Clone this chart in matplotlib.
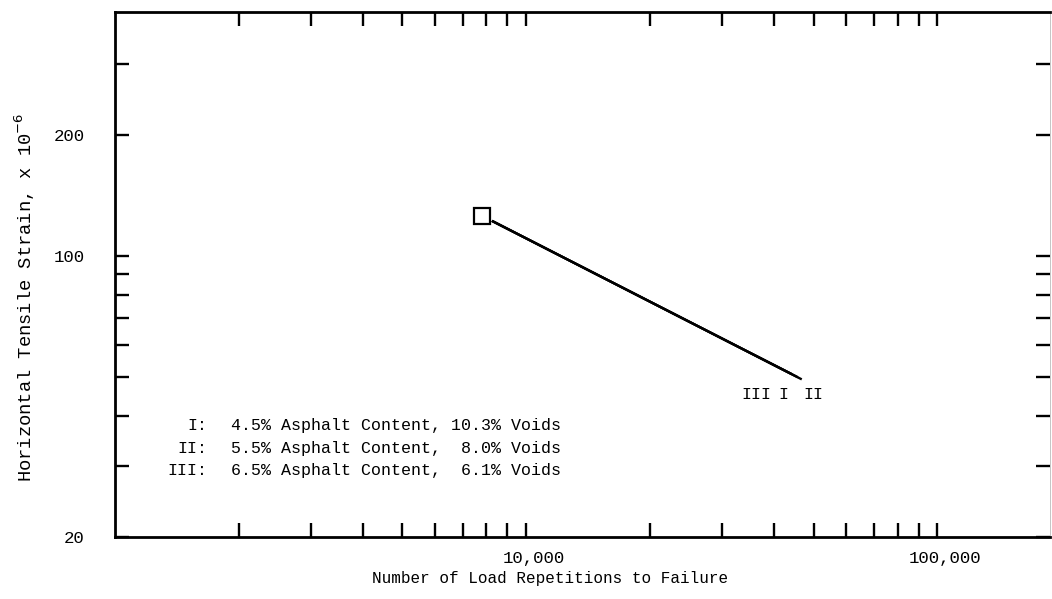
import numpy as np
import matplotlib.pyplot as plt
import matplotlib.transforms as mtransforms
from matplotlib.ticker import FixedLocator, FixedFormatter, NullLocator

# fatigue lines (start near the square marker, ends near the labels)
series = ['III', 'I', 'II']
n_start = [8300, 8300, 8300]
strain_start = [122, 122, 122]
n_end = [44000, 45500, 46500]
strain_end = [51.0, 50.1, 49.5]
label_n = [36200, 42300, 50000]
label_strain = [45.2, 45.2, 45.2]

# square data point
sq_n = [7800]
sq_strain = [126]

x_ticks = [2000, 3000, 4000, 5000, 6000, 7000, 8000, 9000, 10000,
           20000, 30000, 40000, 50000, 60000, 70000, 80000, 90000, 100000]
x_labels = ['', '', '', '', '', '', '', '', '10,000',
            '', '', '', '', '', '', '', '', '100,000']
y_ticks = [20, 30, 40, 50, 60, 70, 80, 90, 100, 200, 300]
y_labels = ['20', '', '', '', '', '', '', '', '100', '200', '']

legend_keys = ['I:', 'II:', 'III:']
legend_text = ['4.5% Asphalt Content, 10.3% Voids',
               '5.5% Asphalt Content,  8.0% Voids',
               '6.5% Asphalt Content,  6.1% Voids']

mono = 'Liberation Mono'

fig = plt.figure(figsize=(10.52, 5.99), dpi=100)
ax = fig.add_axes([0.1093, 0.1035, 0.889, 0.8765])

for i in range(len(series)):
    ax.plot([n_start[i], n_end[i]], [strain_start[i], strain_end[i]],
            color='black', linewidth=1.7)
    ax.text(label_n[i], label_strain[i], series[i], fontfamily=mono,
            fontsize=12, ha='center', va='center')

ax.plot(sq_n, sq_strain, marker='s', markersize=11, markerfacecolor='white',
        markeredgecolor='black', markeredgewidth=1.6, linestyle='none')

ax.set_xscale('log')
ax.set_yscale('log')
ax.set_xlim(1000, 188000)
ax.set_ylim(20, 405)

ax.xaxis.set_major_locator(FixedLocator(x_ticks))
ax.xaxis.set_major_formatter(FixedFormatter(x_labels))
ax.yaxis.set_major_locator(FixedLocator(y_ticks))
ax.yaxis.set_major_formatter(FixedFormatter(y_labels))
ax.xaxis.set_minor_locator(NullLocator())
ax.yaxis.set_minor_locator(NullLocator())

ax.tick_params(axis='both', which='major', direction='in', length=10, width=1.7,
               top=True, right=True, labelsize=12.5)
ax.tick_params(axis='x', pad=10)
ax.tick_params(axis='y', pad=22)
shift = mtransforms.ScaledTranslation(8 / 100, 0, fig.dpi_scale_trans)
for lab in ax.get_xticklabels():
    lab.set_fontfamily(mono)
    lab.set_transform(lab.get_transform() + shift)
for lab in ax.get_yticklabels():
    lab.set_fontfamily(mono)

for side in ['left', 'bottom', 'top']:
    ax.spines[side].set_linewidth(2.0)
ax.spines['right'].set_linewidth(0.6)
ax.spines['right'].set_color('#bbbbbb')

# legend block
for i in range(len(legend_keys)):
    y = 0.289 - i * 0.0375
    fig.text(0.197, y, legend_keys[i], fontfamily=mono, fontsize=12,
             ha='right', va='center')
    fig.text(0.22, y, legend_text[i], fontfamily=mono, fontsize=12,
             ha='left', va='center')

fig.text(0.523, 0.035, 'Number of Load Repetitions to Failure', fontfamily=mono,
         fontsize=11.5, ha='center', va='center')
fig.text(0.024, 0.504, r'Horizontal Tensile Strain, x 10$^{-6}$', fontfamily=mono,
         fontsize=13.5, rotation=90, ha='center', va='center')

fig.savefig('out.png', dpi=100, facecolor='white')
